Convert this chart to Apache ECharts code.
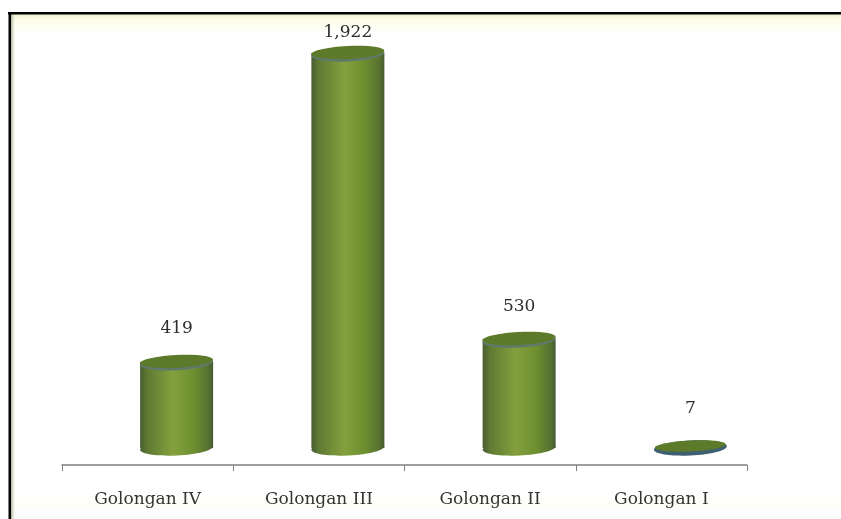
<!DOCTYPE html>
<html><head><meta charset="utf-8">
<style>html,body{margin:0;padding:0;background:#fff}#c{width:841px;height:519px;filter:blur(0.5px)}</style>
<script src="https://cdn.jsdelivr.net/npm/echarts@6/dist/echarts.min.js"></script>
</head><body><div id="c"></div>
<script>
var categories = ['Golongan IV','Golongan III','Golongan II','Golongan I'];
var values = [419,1922,530,7];
var chart = echarts.init(document.getElementById('c'),null,{renderer:'canvas'});
var bodyGrad = new echarts.graphic.LinearGradient(0,0,1,0,[
 {offset:0,color:'#4a5c34'},{offset:0.1,color:'#5f7a32'},{offset:0.45,color:'#84a03e'},
 {offset:0.72,color:'#6f9030'},{offset:0.93,color:'#587230'},{offset:1,color:'#465a34'}]);
var labelGaps = [33,20,33,38];
var tilt = 0.05;
function tiltedEllipse(x,y,rx,ry,style){
  return {type:'ellipse',shape:{cx:x,cy:y,rx:rx,ry:ry},originX:x,originY:y,rotation:tilt,style:style};
}
function renderItem(params, api){
  var base = api.coord([api.value(0),0]);
  var x = base[0]+29;
  var y0 = base[1];
  var y1 = api.coord([api.value(0),api.value(1)])[1];
  var rx = 36.5, ry = 7.5;
  var kids = [];
  if(y0-y1>=4){
    kids.push(tiltedEllipse(x,y0,rx,ry,{fill:bodyGrad}));
    kids.push({type:'rect',shape:{x:x-rx,y:y1,width:rx*2,height:y0-y1},style:{fill:bodyGrad}});
    kids.push(tiltedEllipse(x,y1+1,rx,ry,{fill:'#5f7a6c'}));
    kids.push(tiltedEllipse(x,y1-0.5,rx,ry-1,{fill:'#5c7a2a'}));
  } else {
    kids.push(tiltedEllipse(x,y0,rx,ry,{fill:'#3f5f72'}));
    kids.push(tiltedEllipse(x,y1-0.5,rx-1,ry-2,{fill:'#5c7a2a'}));
  }
  kids.push({type:'text',style:{x:x,y:y1-labelGaps[params.dataIndex],
    text:echarts.format.addCommas(api.value(1)),align:'center',verticalAlign:'middle',
    font:'17px "DejaVu Serif"',fill:'#2c2c2c'}});
  return {type:'group',children:kids};
}
chart.setOption({
  animation:false,
  backgroundColor:'#ffffff',
  graphic:[
    {type:'rect',z:-1,silent:true,shape:{x:11,y:14,width:830,height:505},style:{fill:new echarts.graphic.LinearGradient(0,0,0,1,[
      {offset:0,color:'#eef2cf'},{offset:0.012,color:'#fdfee8'},{offset:0.04,color:'#ffffff'},
      {offset:0.95,color:'#ffffff'},{offset:0.97,color:'#fffef6'},{offset:0.985,color:'#fcfcfe'},{offset:1,color:'#fcfcfe'}])}},
    {type:'rect',z:-1,silent:true,shape:{x:11,y:14,width:4,height:505},style:{fill:new echarts.graphic.LinearGradient(0,0,1,0,[
      {offset:0,color:'#a8ae98'},{offset:1,color:'rgba(240,245,225,0.3)'}])}},
    {type:'rect',z:10,silent:true,shape:{x:8,y:12,width:833,height:2.5},style:{fill:'#000'}},
    {type:'rect',z:10,silent:true,shape:{x:8.5,y:12,width:2.5,height:507},style:{fill:'#000'}}
  ],
  grid:{left:62,right:94,top:37,height:411},
  xAxis:{type:'category',data:categories,offset:17,
    axisLine:{onZero:false,lineStyle:{color:'#808080',width:1.5}},
    axisTick:{show:true,length:6,lineStyle:{color:'#808080'}},
    axisLabel:{fontFamily:'DejaVu Serif',fontSize:17,color:'#333333',margin:26}},
  yAxis:{type:'value',min:0,max:2000,show:false},
  series:[{type:'custom',renderItem:renderItem,
    data:values.map(function(v,i){return [i,v];}),encode:{x:0,y:1},clip:false}]
});
</script></body></html>
